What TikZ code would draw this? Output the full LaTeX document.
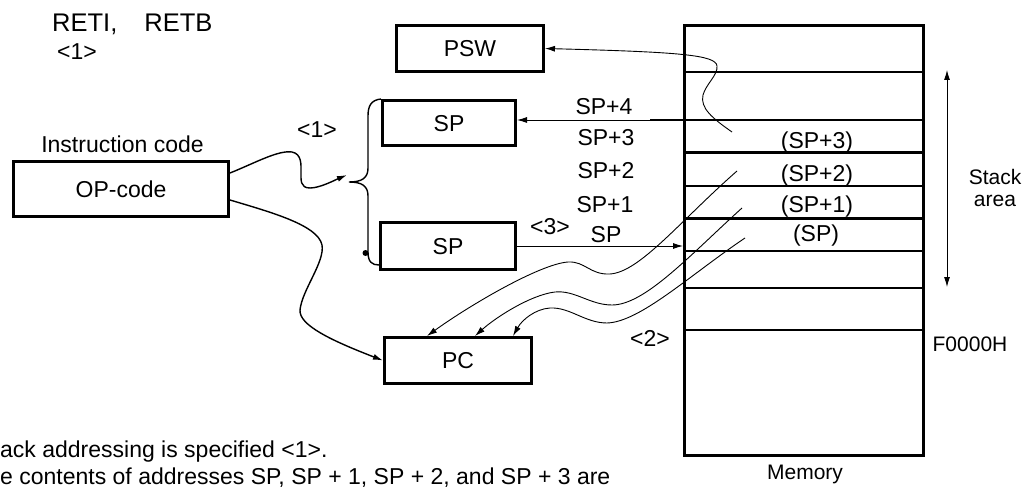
\documentclass[tikz,border=0pt]{standalone}
\usepackage{fontspec}
\setmainfont{Liberation Sans}
\usetikzlibrary{arrows.meta}
\begin{document}
\begin{tikzpicture}[x=1pt,y=-1pt,
  box/.style={draw,line width=3pt,inner sep=0pt,font=\fontsize{23}{27}\selectfont,text height=16.5pt},
  arr/.style={-{Latex[length=10pt,width=6pt]},line width=0.9pt},
  warr/.style={-{Latex[length=10pt,width=6pt]},line width=1.4pt},
  lbl/.style={font=\fontsize{23}{27}\selectfont,inner sep=0pt,anchor=base},
  sml/.style={font=\fontsize{21}{25}\selectfont,inner sep=0pt,anchor=base},
  big/.style={font=\fontsize{25.5}{30}\selectfont,inner sep=0pt,anchor=base west},
  thinln/.style={line width=1.5pt},
  thickln/.style={line width=3pt},
]
\useasboundingbox (0,0) rectangle (1028,489);

% boxes
\node[box,minimum width=215pt,minimum height=55pt,text depth=-11.5pt] (op) at (121,189) {OP-code};
\node[box,minimum width=147pt,minimum height=46pt,text depth=-8.5pt] (psw) at (470,48.5) {PSW};
\node[box,minimum width=133pt,minimum height=45pt,text depth=-1.5pt] (spT) at (449,123) {SP};
\node[box,minimum width=135pt,minimum height=47pt,text depth=-1.5pt] (spB) at (448,246) {SP};
\node[box,minimum width=147pt,minimum height=46pt,text depth=-6.5pt] (pc) at (458,360.5) {PC};
\node[draw,line width=3pt,inner sep=0pt,minimum width=239pt,minimum height=430pt] (mem) at (804,240.5) {};

% memory rows
\draw[thinln] (684,72) -- (924,72);
\draw[thinln] (650,120) -- (924,120);
\draw[thickln] (684,152.5) -- (924,152.5);
\draw[thinln] (684,186) -- (924,186);
\draw[thickln] (684,218.5) -- (924,218.5);
\draw[thinln] (684,251) -- (924,251);
\draw[thinln] (684,288) -- (924,288);
\draw[line width=2pt] (684,329.5) -- (924,329.5);

% texts
\node[big] (t1) at (52,32) {RETI,\hspace{27pt}RETB};
\node[lbl] (t2) at (77,60) {<1>};
\node[lbl] (t3) at (122.5,153) {Instruction code};
\node[lbl] (t4) at (317,138) {<1>};
\node[lbl] (l4) at (604,115) {SP+4};
\node[lbl] (l3) at (606,146) {SP+3};
\node[lbl] (l2) at (606,179) {SP+2};
\node[lbl] (l1) at (605,213) {SP+1};
\node[lbl] (l0) at (606,243) {SP};
\node[lbl] (t5) at (550,235) {<3>};
\node[lbl] (t6) at (650,346) {<2>};
\node[lbl] (m3) at (817,149) {(SP+3)};
\node[lbl] (m2) at (817,182) {(SP+2)};
\node[lbl] (m1) at (817,213) {(SP+1)};
\node[lbl] (m0) at (816,242) {(SP)};
\node[sml] (s1) at (995,185) {Stack};
\node[sml] (s2) at (995,207) {area};
\node[sml] (f0) at (970,351) {F0000H};
\node[sml] (mm) at (805,479) {Memory};
\node[lbl,anchor=base west] (b1) at (0,457) {ack addressing is specified <1>.};
\node[lbl,anchor=base west] (b2) at (0,484) {e contents of addresses SP, SP + 1, SP + 2, and SP + 3 are};

% stack area arrow
\coordinate (sa1) at (947,70);
\coordinate (sa2) at (947,287);
\draw[{Latex[length=10pt,width=6pt]}-{Latex[length=10pt,width=6pt]},line width=0.9pt] (sa1) -- (sa2);

% brace
\coordinate (bt) at (347,175);
\draw[line width=1.4pt] (spT.north west) .. controls (371,100) and (368,106) .. (368,116) -- (368,168)
  .. controls (368,178) and (362,182) .. (349,182) .. controls (362,182) and (368,186) .. (368,196)
  -- (368,252) .. controls (368,262) and (372,265) .. (spB.west |- 0,265);
\fill (365.5,253) circle (3pt);

% OP-code -> brace
\draw[warr] ([yshift=16pt]op.east) .. controls (255,163) and (278,150) .. (292,152)
  .. controls (302,154) and (301,165) .. (301,172) .. controls (301,180) and (300,188) .. (310,188)
  .. controls (320,188) and (335,180) .. (bt);
% OP-code -> PC
\draw[warr] ([yshift=-11pt]op.east) .. controls (270,212) and (318,225) .. (322,245)
  .. controls (325,262) and (302,290) .. (300,310) .. controls (299,325) and (330,340) .. (pc.west);

% memory -> PSW
\coordinate (cp) at (732,132);
\draw[arr] (cp) .. controls (712,118) and (700,108) .. (703,95) .. controls (706,84) and (718,75) .. (717,66)
  .. controls (716,55) and (680,52) .. (psw.east);
% memory -> SP (top)
\coordinate (cs) at (683,120);
\draw[arr] (cs) -- (cs -| spT.east);
% SP (bottom) -> memory
\draw[arr] (spB.east) -- (spB.east -| mem.west);

% memory -> PC
\coordinate (ca) at (737,171);
\coordinate (cb) at (742,208);
\coordinate (cc) at (745,238);
\draw[arr] (ca) .. controls (680,221) and (640,272) .. (610,274) .. controls (590,275) and (585,261) .. (568,262)
  .. controls (540,264) and (470,305) .. ([xshift=-31pt]pc.north);
\draw[arr] (cb) .. controls (690,255) and (645,305) .. (612,305) .. controls (590,305) and (575,290) .. (555,292)
  .. controls (530,295) and (495,318) .. ([xshift=17pt]pc.north);
\draw[arr] (cc) .. controls (690,275) and (640,322) .. (607,323) .. controls (585,323) and (570,307) .. (550,308)
  .. controls (535,309) and (522,320) .. ([xshift=55pt]pc.north);
\end{tikzpicture}
\end{document}
